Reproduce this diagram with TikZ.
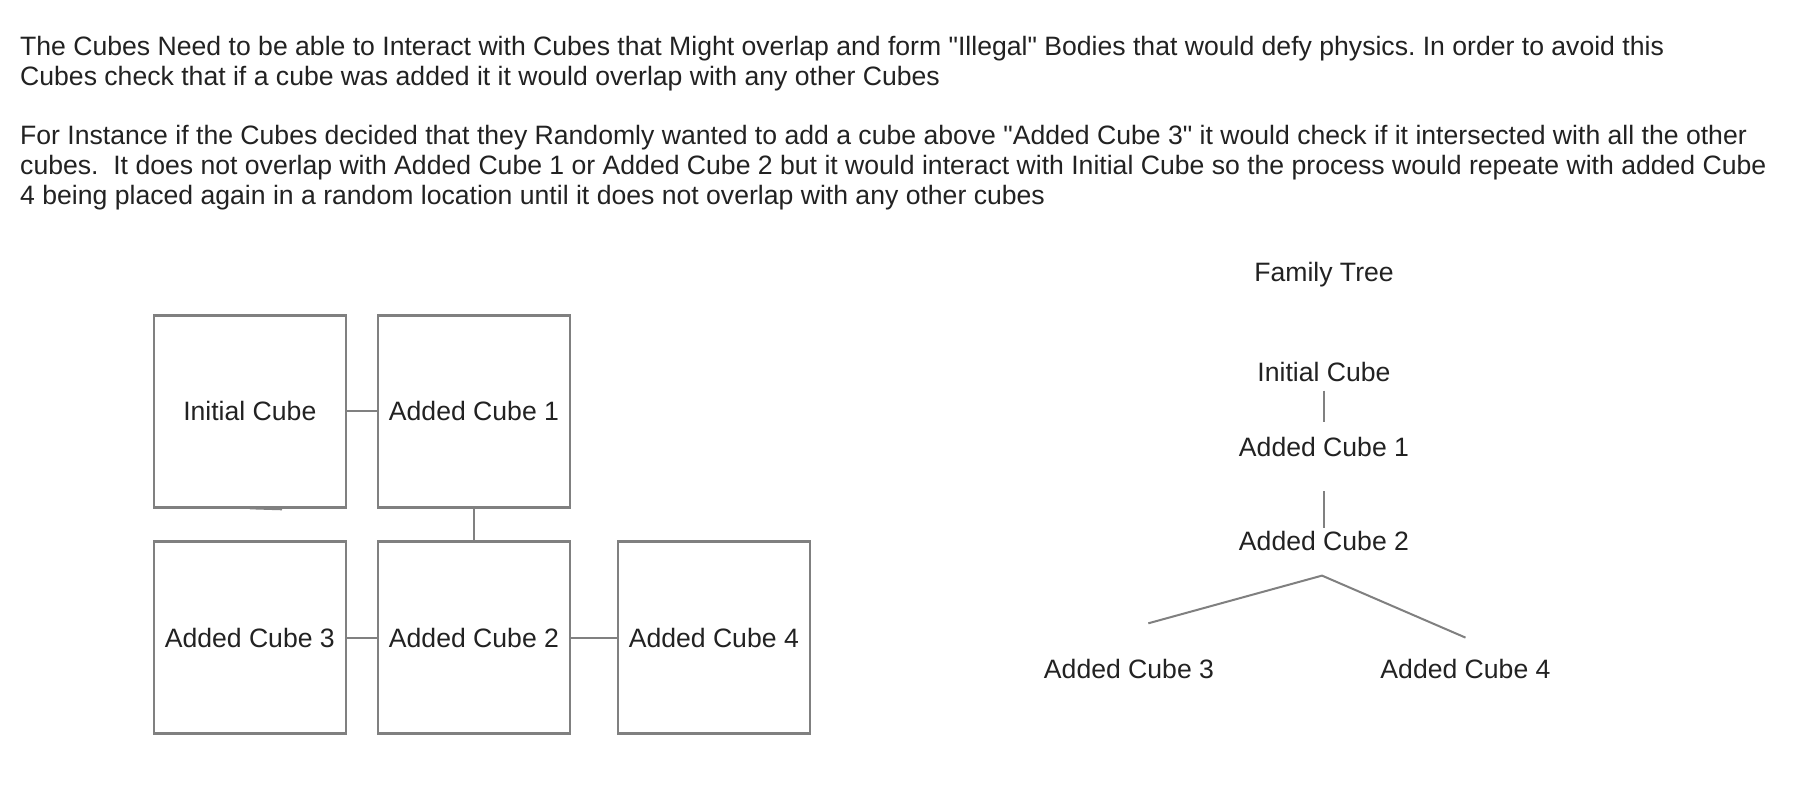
\documentclass[tikz,border=0pt]{standalone}
\usepackage{fontspec}
\newfontfamily\libsans{Liberation Sans}
\definecolor{txt}{RGB}{34,34,34}
\definecolor{ln}{RGB}{128,128,128}
\frenchspacing
\begin{document}
\begin{tikzpicture}[x=1pt,y=-1pt,
  every node/.style={font=\libsans\fontsize{26.6}{29.8}\selectfont, text=txt, inner sep=0pt},
  para/.style={anchor=base west},
  lbl/.style={anchor=base},
  cube/.style={draw=ln, line width=2.4pt, minimum width=192pt, minimum height=192pt, text height=19pt, text depth=0pt},
  conn/.style={draw=ln, line width=2pt}]
\useasboundingbox (0,0) rectangle (1798,788);
\fill[white] (0,0) rectangle (1798,788);
% paragraph
\node[para] (p1) at (20,55.3) {The Cubes Need to be able to Interact with Cubes that Might overlap and form "Illegal" Bodies that would defy physics. In order to avoid this};
\node[para] (p2) at (20,85.1) {Cubes check that if a cube was added it it would overlap with any other Cubes};
\node[para] (p3) at (20,144.7) {For Instance if the Cubes decided that they Randomly wanted to add a cube above "Added Cube 3" it would check if it intersected with all the other};
\node[para] (p4) at (20,174.5) {cubes.\ \ It does not overlap with Added Cube 1 or Added Cube 2 but it would interact with Initial Cube so the process would repeate with added Cube};
\node[para] (p5) at (20,204.3) {4 being placed again in a random location until it does not overlap with any other cubes};
% cubes
\node[cube] (ic) at (249.8,411.3) {Initial Cube};
\node[cube] (a1) at (474,411.3) {Added Cube 1};
\node[cube] (a3) at (249.8,637.6) {Added Cube 3};
\node[cube] (a2) at (474,637.6) {Added Cube 2};
\node[cube] (a4) at (713.8,637.6) {Added Cube 4};
\draw[conn] (ic.east) -- (a1.west);
\draw[conn] (a1.south) -- (a2.north);
\draw[conn] (a3.east) -- (a2.west);
\draw[conn] (a2.east) -- (a4.west);
\coordinate (stray) at (282,509.5);
\draw[ln, line width=1.6pt] (ic.south) -- (stray);
% family tree
\node[lbl] (ft) at (1324,281.7) {Family Tree};
\node[lbl] (ti) at (1324,381.7) {Initial Cube};
\node[lbl] (t1) at (1324,456.7) {Added Cube 1};
\node[lbl] (t2) at (1324,550.5) {Added Cube 2};
\node[lbl] (t3) at (1129,678.3) {Added Cube 3};
\node[lbl] (t4) at (1465.5,678.3) {Added Cube 4};
\coordinate (e1a) at (1324,390.5);
\coordinate (e1b) at (1324,422.3);
\coordinate (e2a) at (1324,491);
\coordinate (e2b) at (1324,527.5);
\coordinate (apex) at (1322,575.6);
\coordinate (l3) at (1148.3,623.3);
\coordinate (l4) at (1465.5,637.6);
\draw[conn] (e1a) -- (e1b);
\draw[conn] (e2a) -- (e2b);
\draw[conn] (l3) -- (apex) -- (l4);
\end{tikzpicture}
\end{document}
